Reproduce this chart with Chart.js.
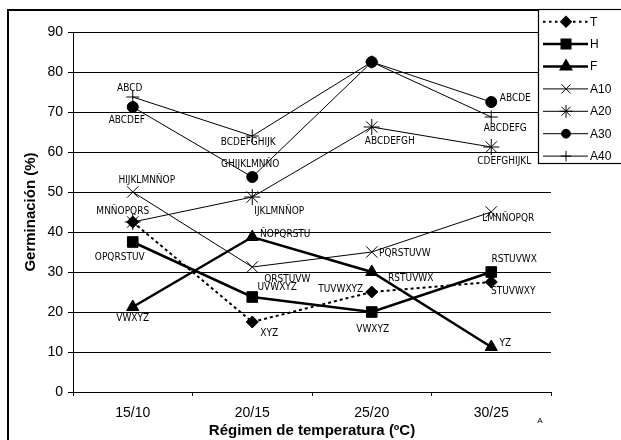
<!DOCTYPE html>
<html>
<head>
<meta charset="utf-8">
<script src="https://cdn.jsdelivr.net/npm/chart.js@4.4.1/dist/chart.umd.min.js"></script>
<style>
  body { margin: 0; background: #fff; }
  canvas { display: block; }
</style>
</head>
<body>
<canvas id="myChart" width="621" height="440"></canvas>
<script>
// datos
var categorias = ['15/10', '20/15', '25/20', '30/25'];
var serieT   = [42.5, 17.5, 25, 27.5];
var serieH   = [37.5, 23.75, 20, 30];
var serieF   = [21.25, 38.75, 30, 11.25];
var serieA10 = [50, 31.25, 35, 45];
var serieA20 = [42.5, 48.75, 66.25, 61.25];
var serieA30 = [71.25, 53.75, 82.5, 72.5];
var serieA40 = [73.75, 64, 82.5, 68.75];

// letras de significacion
var letrasT   = [null, 'XYZ', 'TUVWXYZ', 'STUVWXY'];
var letrasH   = ['OPQRSTUV', 'UVWXYZ', 'VWXYZ', 'RSTUVWX'];
var letrasF   = ['VWXYZ', 'ÑOPQRSTU', 'RSTUVWX', 'YZ'];
var letrasA10 = ['HIJKLMNÑOP', 'QRSTUVW', 'PQRSTUVW', 'LMNÑOPQR'];
var letrasA20 = ['MNÑOPQRS', 'IJKLMNÑOP', 'ABCDEFGH', 'CDEFGHIJKL'];
var letrasA30 = ['ABCDEF', 'GHIJKLMNÑO', null, 'ABCDE'];
var letrasA40 = ['ABCD', 'BCDEFGHIJK', null, 'ABCDEFG'];

var ticksY = [0, 10, 20, 30, 40, 50, 60, 70, 80, 90];

// desplazamiento de cada etiqueta respecto a su punto (px)
var desplaz = [
    [null, [17, 11], [-31, -3], [22, 9]],
    [[-13, 15], [25, -10], [1, 17], [23, -13]],
    [[0, 11], [33, -3], [39, 6], [14, -4]],
    [[14, -12], [35, 12], [33, 1], [17, 6]],
    [[-10, -11], [27, 14], [18, 14], [13, 14]],
    [[-6, 13], [-2, -13], null, [24, -4]],
    [[-3, -9], [-4, 6], null, [14, 11]]
];

var fuenteLetras = "10px 'Liberation Sans Narrow', 'DejaVu Sans Condensed', sans-serif";

function serie(label, data, letras, estilo, radio, grosor, guiones) {
    return {
        label: label,
        data: data,
        letras: letras,
        borderColor: '#000',
        backgroundColor: '#000',
        borderWidth: grosor,
        borderDash: guiones || [],
        pointStyle: estilo,
        pointRadius: radio,
        pointHoverRadius: radio,
        pointBackgroundColor: '#000',
        pointBorderColor: '#000',
        pointBorderWidth: 1,
        tension: 0,
        fill: false
    };
}

var marco = {
    id: 'marco',
    beforeDraw: function (chart) {
        var ctx = chart.ctx;
        ctx.save();
        ctx.fillStyle = '#fff';
        ctx.fillRect(0, 0, chart.width, chart.height);
        ctx.strokeStyle = '#000';
        ctx.lineWidth = 2;
        ctx.strokeRect(8, 10, 700, 500);
        ctx.restore();
    }
};

var etiquetas = {
    id: 'etiquetas',
    afterDatasetsDraw: function (chart) {
        var ctx = chart.ctx;
        ctx.save();
        ctx.font = fuenteLetras;
        ctx.fillStyle = '#000';
        ctx.textAlign = 'center';
        ctx.textBaseline = 'middle';
        chart.data.datasets.forEach(function (ds, i) {
            var meta = chart.getDatasetMeta(i);
            ds.letras.forEach(function (txt, j) {
                if (!txt || !desplaz[i][j]) return;
                var p = meta.data[j];
                ctx.fillText(txt, p.x + desplaz[i][j][0], p.y + desplaz[i][j][1]);
            });
        });
        ctx.restore();
    }
};

var leyenda = {
    id: 'leyenda',
    afterDraw: function (chart) {
        var ctx = chart.ctx;
        ctx.save();
        ctx.fillStyle = '#fff';
        ctx.fillRect(538, 9, 120, 155);
        ctx.strokeStyle = '#000';
        ctx.lineWidth = 1.2;
        ctx.strokeRect(538.5, 9.5, 130, 154);
        chart.data.datasets.forEach(function (ds, i) {
            var y = 21.7 + i * 22.4;
            ctx.strokeStyle = '#000';
            ctx.fillStyle = '#000';
            ctx.lineWidth = ds.borderWidth;
            ctx.setLineDash(ds.borderDash.length ? [2.5, 3.5] : []);
            ctx.beginPath();
            ctx.moveTo(543, y);
            ctx.lineTo(588, y);
            ctx.stroke();
            ctx.setLineDash([]);
            Chart.helpers.drawPoint(ctx, {
                pointStyle: ds.pointStyle,
                radius: ds.pointRadius * 0.8,
                borderWidth: 1,
                rotation: 0
            }, 566, y);
            ctx.font = "12px 'Liberation Sans', Arial, sans-serif";
            ctx.textAlign = 'left';
            ctx.textBaseline = 'middle';
            ctx.fillText(ds.label, 590, y + 0.5);
        });
        ctx.font = "8px 'Liberation Sans', Arial, sans-serif";
        ctx.textAlign = 'center';
        ctx.fillText('A', 540, 421);
        ctx.restore();
    }
};

var ctx = document.getElementById('myChart').getContext('2d');
var myChart = new Chart(ctx, {
    type: 'line',
    data: {
        labels: categorias,
        datasets: [
            serie('T', serieT, letrasT, 'rectRot', 6, 2, [3, 3]),
            serie('H', serieH, letrasH, 'rect', 7.5, 2.5),
            serie('F', serieF, letrasF, 'triangle', 7, 2.5),
            serie('A10', serieA10, letrasA10, 'crossRot', 8, 1),
            serie('A20', serieA20, letrasA20, 'star', 8, 1),
            serie('A30', serieA30, letrasA30, 'circle', 5.5, 1),
            serie('A40', serieA40, letrasA40, 'cross', 6.5, 1)
        ]
    },
    options: {
        responsive: false,
        animation: false,
        layout: {
            padding: { left: 0, right: 70, top: 32, bottom: 0 }
        },
        scales: {
            x: {
                offset: true,
                grid: {
                    offset: true,
                    drawOnChartArea: false,
                    drawTicks: true,
                    tickLength: 4,
                    color: '#000'
                },
                border: { display: true, color: '#000', width: 1 },
                ticks: {
                    color: '#000',
                    padding: 9,
                    maxRotation: 0,
                    font: { family: "'Liberation Sans', Arial, sans-serif", size: 14 }
                },
                title: {
                    display: true,
                    text: 'Régimen de temperatura (ºC)',
                    color: '#000',
                    padding: { top: 0, bottom: 0 },
                    font: { family: "'Liberation Sans', Arial, sans-serif", size: 15, weight: 'bold' }
                },
                afterFit: function (scale) { scale.height = 48; }
            },
            y: {
                min: 0,
                max: 90,
                afterBuildTicks: function (scale) {
                    scale.ticks = ticksY.map(function (v) { return { value: v }; });
                },
                grid: {
                    color: '#000',
                    lineWidth: 1,
                    tickLength: 5
                },
                border: { display: true, color: '#000', width: 1 },
                ticks: {
                    color: '#000',
                    padding: 5,
                    font: { family: "'Liberation Sans', Arial, sans-serif", size: 14 }
                },
                title: {
                    display: true,
                    text: 'Germinación (%)',
                    color: '#000',
                    padding: { top: 22, bottom: 0 },
                    font: { family: "'Liberation Sans', Arial, sans-serif", size: 15, weight: 'bold' }
                },
                afterFit: function (scale) { scale.width = 73; }
            }
        },
        plugins: {
            legend: { display: false },
            tooltip: { enabled: false }
        }
    },
    plugins: [marco, etiquetas, leyenda]
});
</script>
</body>
</html>
